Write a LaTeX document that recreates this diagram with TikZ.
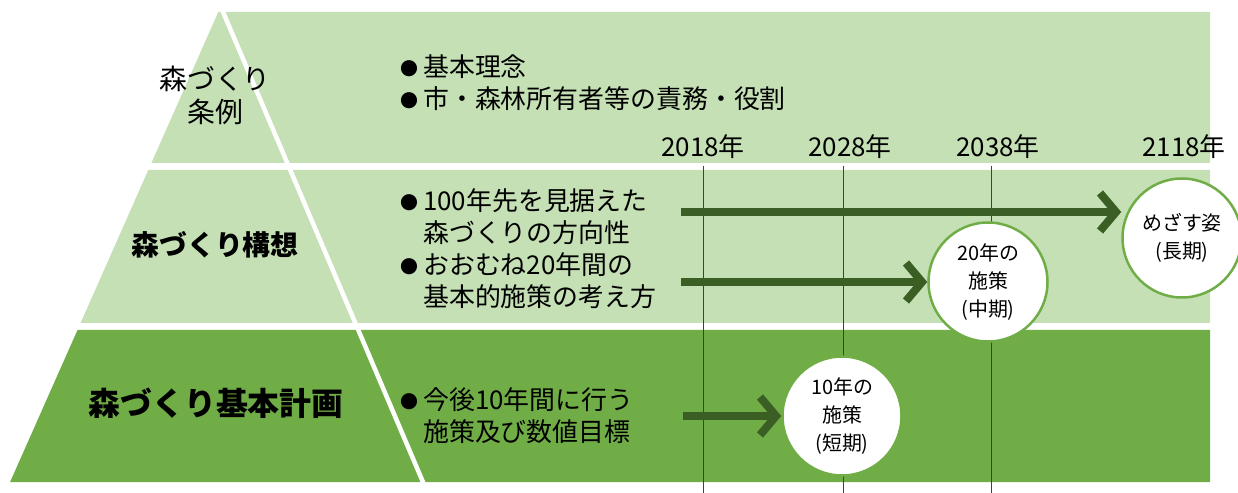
\documentclass[tikz,border=0pt]{standalone}
\usepackage{fontspec}
\setmainfont{Noto Sans CJK JP}
\usetikzlibrary{arrows.meta}
\definecolor{paleg}{HTML}{C5E0B4}
\definecolor{deepg}{HTML}{70AD47}
\definecolor{arrowg}{HTML}{3B5E25}
\newcommand\bul{\makebox[23bp][l]{\raisebox{1.5bp}{\fontsize{18}{18}\selectfont ●}}}
\tikzset{
  txt/.style={anchor=west, align=left, inner sep=0pt, font=\fontsize{26}{32}\selectfont},
  yearlbl/.style={inner sep=0pt, font=\fontsize{26}{30}\selectfont},
  term/.style={circle, draw=deepg, line width=2.5bp, fill=white, minimum size=119bp,
    inner sep=0pt, align=center, font=\fontsize{20}{28}\selectfont},
  goarrow/.style={draw=arrowg, line width=8bp, -{Straight Barb[length=16bp,width=38bp]}},
  tick/.style={draw=black!75, line width=0.8bp}
}
\begin{document}
\begin{tikzpicture}[x=1bp, y=-1bp]
  \useasboundingbox (0,0) rectangle (1238,493);

  % bands
  \fill[paleg] (218.3,12) -- (1210,12) -- (1210,163) -- (151.4,163) -- cycle;
  \fill[paleg] (148.3,170) -- (1210,170) -- (1210,323) -- (80.6,323) -- cycle;
  \fill[deepg] (77.5,330) -- (1210,330) -- (1210,482) -- (10.1,482) -- cycle;
  \draw[white, line width=4.5bp] (220.5,6) -- (425.5,488);

  % year lines
  \path[tick] (703,166) edge (703,493);
  \path[tick] (843.5,166) edge (843.5,493);
  \path[tick] (991,166) edge (991,493);

  \node[yearlbl] (y1) at (703,147) {2018年};
  \node[yearlbl] (y2) at (850,147) {2028年};
  \node[yearlbl] (y3) at (998,147) {2038年};
  \node[yearlbl] (y4) at (1184,147) {2118年};

  % pyramid labels
  \node[align=center, font=\fontsize{28}{33}\selectfont] (rule) at (215,95) {森づくり\\条例};
  \node[font=\fontsize{28}{33}\selectfont\bfseries] (plan) at (215,245) {森づくり構想};
  \node[font=\fontsize{32}{36}\selectfont\bfseries] (basic) at (216,403) {森づくり基本計画};

  % bullets
  \node[txt] (b1) at (400,83) {\bul 基本理念\\\bul 市・森林所有者等の責務・役割};
  \node[txt] (b2) at (400,217) {\bul 100年先を見据えた\\\hphantom{\bul}森づくりの方向性};
  \node[txt] (b3) at (400,281) {\bul おおむね20年間の\\\hphantom{\bul}基本的施策の考え方};
  \node[txt] (b4) at (400,416) {\bul 今後10年間に行う\\\hphantom{\bul}施策及び数値目標};

  % terms
  \node[term] (lng) at (1182,238) {めざす姿\\(長期)};
  \node[term] (mid) at (988,282) {20年の\\施策\\(中期)};
  \node[term] (shrt) at (842,416) {10年の\\施策\\(短期)};

  \coordinate (s1) at (681,212);
  \coordinate (s2) at (681,282);
  \coordinate (s3) at (683,416);
  \draw[goarrow] (s1) -- (s1 -| lng.west);
  \draw[goarrow] (s2) -- (mid);
  \draw[goarrow] (s3) -- (shrt);
\end{tikzpicture}
\end{document}
